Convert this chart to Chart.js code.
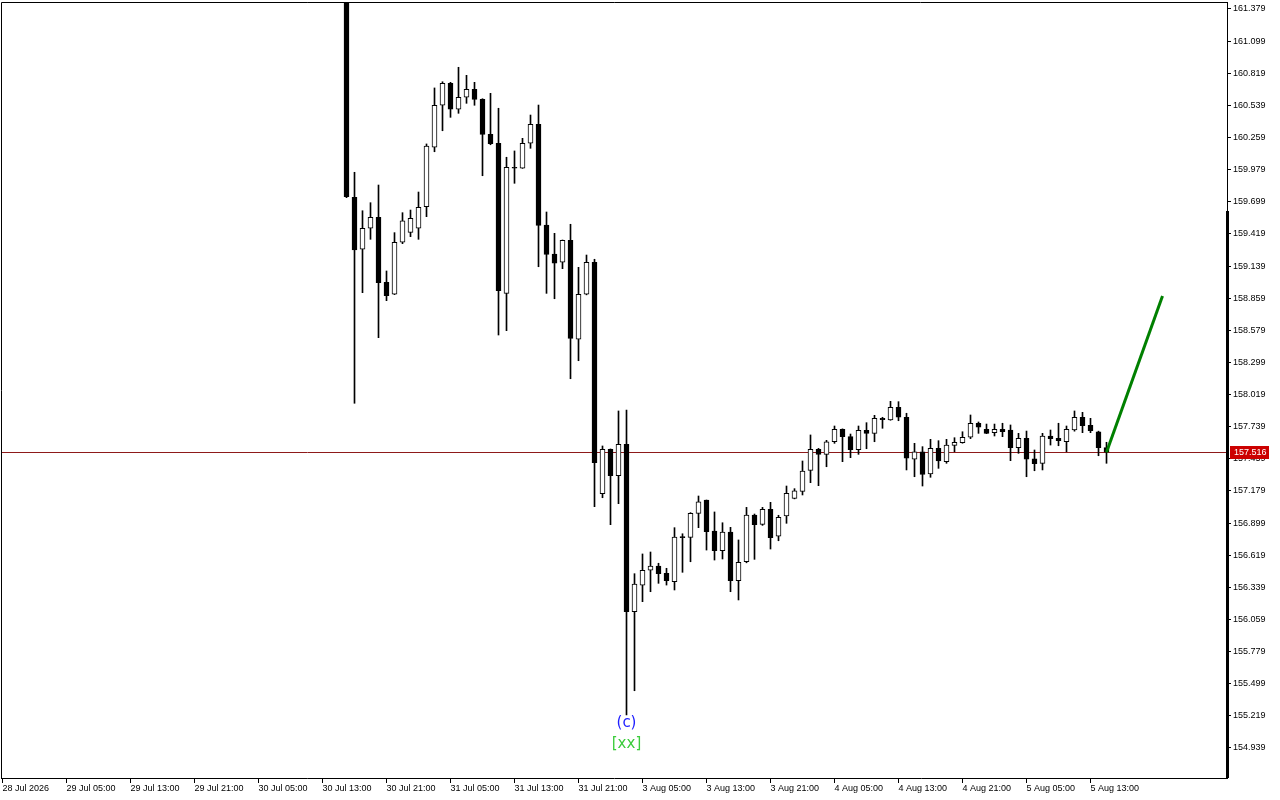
<!DOCTYPE html>
<html>
<head>
<meta charset="utf-8">
<script src="https://cdn.jsdelivr.net/npm/chart.js@4.4.1/dist/chart.umd.min.js"></script>
<style>
  html, body { margin: 0; padding: 0; background: #ffffff; }
  #wrap { width: 1280px; height: 800px; }
</style>
</head>
<body>
<div id="wrap"><canvas id="chart" width="1280" height="800"></canvas></div>
<script>
// H1 candles, bar index counted from the first slot on the left (28 Jul 21:00)
const firstBar = 43;

const opens = [
  161.750, 159.738, 159.285, 159.468, 159.564, 158.997, 158.893, 159.346, 159.433, 159.468,
  159.656, 160.174, 160.540, 160.732, 160.505, 160.610, 160.679, 160.592, 160.287, 160.209,
  158.901, 159.999, 159.991, 160.209, 160.374, 159.497, 159.244, 159.172, 159.363, 158.501,
  158.893, 159.172, 157.155, 157.542, 157.312, 157.586, 156.127, 156.357, 156.488, 156.525,
  156.461, 156.388, 156.778, 156.775, 156.984, 157.100, 156.830, 156.658, 156.821, 156.397,
  156.562, 156.969, 156.888, 157.019, 156.786, 156.961, 157.115, 157.176, 157.359, 157.542,
  157.498, 157.608, 157.716, 157.652, 157.538, 157.708, 157.681, 157.812, 157.797, 157.908,
  157.821, 157.455, 157.521, 157.327, 157.551, 157.434, 157.576, 157.599, 157.647, 157.769,
  157.716, 157.687, 157.716, 157.710, 157.556, 157.638, 157.458, 157.419, 157.658, 157.638,
  157.608, 157.710, 157.821, 157.751, 157.695, 157.556
];
const highs = [
  161.800, 159.956, 159.621, 159.691, 159.845, 159.096, 159.430, 159.604, 159.627, 159.784,
  160.203, 160.691, 160.745, 160.740, 160.871, 160.801, 160.740, 160.597, 160.644, 160.514,
  160.087, 160.142, 160.252, 160.455, 160.542, 159.610, 159.424, 159.366, 159.503, 159.128,
  159.235, 159.198, 157.571, 157.545, 157.876, 157.884, 156.458, 156.630, 156.647, 156.549,
  156.505, 156.859, 156.806, 156.990, 157.135, 157.100, 156.996, 156.902, 156.862, 156.752,
  157.036, 156.978, 157.036, 157.080, 156.967, 157.222, 157.199, 157.440, 157.667, 157.550,
  157.620, 157.745, 157.720, 157.675, 157.745, 157.774, 157.838, 157.821, 157.960, 157.957,
  157.856, 157.594, 157.565, 157.629, 157.617, 157.629, 157.643, 157.695, 157.841, 157.780,
  157.762, 157.762, 157.769, 157.754, 157.681, 157.701, 157.536, 157.681, 157.710, 157.769,
  157.745, 157.876, 157.864, 157.812, 157.700, 157.603
];
const lows = [
  159.735, 157.943, 158.907, 159.372, 158.515, 158.837, 158.890, 159.334, 159.395, 159.372,
  159.569, 160.135, 160.318, 160.435, 160.470, 160.557, 160.540, 159.926, 160.196, 158.538,
  158.576, 159.860, 159.990, 160.165, 159.133, 158.901, 158.854, 159.116, 158.157, 158.314,
  158.888, 157.042, 157.120, 156.885, 157.068, 155.227, 155.438, 156.214, 156.301, 156.374,
  156.359, 156.316, 156.470, 156.562, 156.859, 156.664, 156.577, 156.586, 156.301, 156.229,
  156.553, 156.583, 156.879, 156.673, 156.745, 156.897, 157.110, 157.144, 157.251, 157.225,
  157.390, 157.594, 157.434, 157.469, 157.498, 157.547, 157.608, 157.725, 157.795, 157.791,
  157.362, 157.303, 157.222, 157.298, 157.376, 157.420, 157.521, 157.595, 157.635, 157.681,
  157.678, 157.658, 157.652, 157.443, 157.507, 157.303, 157.355, 157.362, 157.579, 157.573,
  157.521, 157.700, 157.687, 157.687, 157.486, 157.420
];
const closes = [
  159.743, 159.279, 159.468, 159.564, 158.994, 158.881, 159.346, 159.532, 159.555, 159.651,
  160.185, 160.540, 160.732, 160.505, 160.610, 160.679, 160.592, 160.287, 160.205, 158.924,
  159.999, 159.991, 160.209, 160.374, 159.494, 159.241, 159.163, 159.363, 158.509, 158.893,
  159.172, 157.425, 157.542, 157.312, 157.586, 156.127, 156.368, 156.488, 156.525, 156.458,
  156.397, 156.778, 156.772, 156.984, 157.085, 156.824, 156.658, 156.821, 156.397, 156.557,
  156.969, 156.885, 157.019, 156.772, 156.949, 157.158, 157.179, 157.353, 157.542, 157.498,
  157.608, 157.716, 157.652, 157.538, 157.708, 157.681, 157.812, 157.800, 157.908, 157.821,
  157.464, 157.521, 157.324, 157.551, 157.440, 157.579, 157.603, 157.647, 157.769, 157.734,
  157.681, 157.716, 157.695, 157.556, 157.638, 157.455, 157.416, 157.658, 157.634, 157.617,
  157.716, 157.821, 157.748, 157.704, 157.556, 157.516
];

// projection line drawn from the last close
const projIdx = [138, 145];
const projVals = [157.516, 158.878];

// wave labels placed under a candle low
const waveIdx = [78];
const waveTop = ["(c)"];
const waveBottom = ["[xx]"];

const xTickLabels = [
  "28 Jul 2026", "29 Jul 05:00", "29 Jul 13:00", "29 Jul 21:00", "30 Jul 05:00", "30 Jul 13:00",
  "30 Jul 21:00", "31 Jul 05:00", "31 Jul 13:00", "31 Jul 21:00", "3 Aug 05:00", "3 Aug 13:00",
  "3 Aug 21:00", "4 Aug 05:00", "4 Aug 13:00", "4 Aug 21:00", "5 Aug 05:00", "5 Aug 13:00"
];
const yTicks = [
  154.939, 155.219, 155.499, 155.779, 156.059, 156.339, 156.619, 156.899, 157.179, 157.459,
  157.739, 158.019, 158.299, 158.579, 158.859, 159.139, 159.419, 159.699, 159.979, 160.259,
  160.539, 160.819, 161.099, 161.379
];

const axisFont = { family: "Liberation Sans", size: 9 };
const lastPrice = closes[closes.length - 1];

// build the two floating-bar series (wicks and bodies)
const wickData = [];
const bodyData = [];
const bodyFill = [];
for (let i = 0; i < opens.length; i++) {
  const x = firstBar + i;
  wickData.push({ x: x, y: [lows[i], highs[i]] });
  bodyData.push({ x: x, y: [Math.min(opens[i], closes[i]), Math.max(opens[i], closes[i])] });
  bodyFill.push(closes[i] >= opens[i] ? "#ffffff" : "#000000");
}
const projData = projIdx.map((x, i) => ({ x: x, y: projVals[i] }));

// frame, bid line, price tag and wave labels
const mtDecor = {
  id: "mtDecor",
  beforeDatasetsDraw(chart) {
    const { ctx, chartArea, scales } = chart;
    const y = Math.round(scales.y.getPixelForValue(lastPrice)) + 0.5;
    ctx.save();
    ctx.strokeStyle = "#8e1a1a";
    ctx.lineWidth = 1;
    ctx.beginPath();
    ctx.moveTo(chartArea.left, y);
    ctx.lineTo(chartArea.right, y);
    ctx.stroke();
    ctx.restore();
  },
  afterDraw(chart) {
    const { ctx, chartArea, scales } = chart;
    ctx.save();
    // top and left frame
    ctx.strokeStyle = "#000";
    ctx.lineWidth = 1;
    ctx.beginPath();
    ctx.moveTo(chartArea.left + 0.5, chartArea.bottom);
    ctx.lineTo(chartArea.left + 0.5, chartArea.top + 0.5);
    ctx.lineTo(chartArea.right, chartArea.top + 0.5);
    ctx.stroke();

    // thick part of the price scale
    ctx.fillStyle = "#000";
    ctx.fillRect(chartArea.right - 1, chartArea.top + 209, 3, chartArea.bottom - chartArea.top - 209);

    // last price tag
    const py = scales.y.getPixelForValue(lastPrice);
    ctx.fillStyle = "#cc0000";
    ctx.fillRect(chartArea.right + 3, Math.round(py) - 6, 39, 13);
    ctx.fillStyle = "#ffffff";
    ctx.font = "9px 'Liberation Sans'";
    ctx.textAlign = "left";
    ctx.textBaseline = "middle";
    ctx.fillText(lastPrice.toFixed(3), chartArea.right + 7, Math.round(py) + 0.5);

    // wave labels
    ctx.font = "15px 'DejaVu Sans'";
    ctx.textAlign = "center";
    for (let k = 0; k < waveIdx.length; k++) {
      const i = waveIdx[k] - firstBar;
      const x = scales.x.getPixelForValue(waveIdx[k]);
      const y = scales.y.getPixelForValue(lows[i]);
      ctx.fillStyle = "#2020ff";
      ctx.fillText(waveTop[k], x, y + 8);
      ctx.fillStyle = "#3ccc3c";
      ctx.fillText(waveBottom[k], x, y + 29);
    }
    ctx.restore();
  }
};

new Chart(document.getElementById("chart").getContext("2d"), {
  type: "bar",
  data: {
    datasets: [
      {
        type: "line",
        data: projData,
        borderColor: "#008000",
        borderWidth: 3,
        pointRadius: 0,
        fill: false,
        order: 0,
        clip: 0
      },
      {
        data: bodyData,
        backgroundColor: bodyFill,
        borderColor: "#000000",
        borderWidth: 1,
        borderSkipped: false,
        barThickness: 5,
        minBarLength: 1,
        grouped: false,
        order: 1,
        clip: 0
      },
      {
        data: wickData,
        backgroundColor: "#000000",
        borderWidth: 0,
        barThickness: 1,
        grouped: false,
        order: 2,
        clip: 0
      }
    ]
  },
  options: {
    responsive: false,
    devicePixelRatio: 1,
    animation: false,
    layout: { padding: { top: 2, left: 1, right: 0, bottom: 0 } },
    plugins: {
      legend: { display: false },
      tooltip: { enabled: false }
    },
    scales: {
      x: {
        type: "linear",
        position: "bottom",
        min: -0.1875,
        max: 153.0625,
        offset: false,
        grid: { offset: false, drawOnChartArea: false, drawTicks: true, tickLength: 5, color: "#000" },
        border: { display: true, color: "#000" },
        ticks: {
          align: "start",
          padding: 0,
          maxRotation: 0,
          autoSkip: false,
          color: "#000",
          font: axisFont,
          callback: function(value) {
            const label = xTickLabels[Math.round(value / 8)];
            return label === undefined ? "" : label;
          }
        },
        afterBuildTicks: function(scale) {
          scale.ticks = xTickLabels.map((t, k) => ({ value: k * 8 }));
        },
        afterFit: function(scale) {
          scale.height = 22;
          scale.paddingLeft = 0;
          scale.paddingRight = 0;
        }
      },
      y: {
        position: "right",
        min: 154.6775,
        max: 161.440,
        grid: { drawOnChartArea: false, drawTicks: true, tickLength: 4, color: "#000" },
        border: { display: true, color: "#000" },
        ticks: {
          padding: 2,
          color: "#000",
          font: axisFont,
          callback: function(value) { return value.toFixed(3); }
        },
        afterBuildTicks: function(scale) {
          scale.ticks = yTicks.map(v => ({ value: v }));
        },
        afterFit: function(scale) {
          scale.width = 53;
          scale.paddingTop = 0;
          scale.paddingBottom = 0;
        }
      }
    }
  },
  plugins: [mtDecor]
});
</script>
</body>
</html>
